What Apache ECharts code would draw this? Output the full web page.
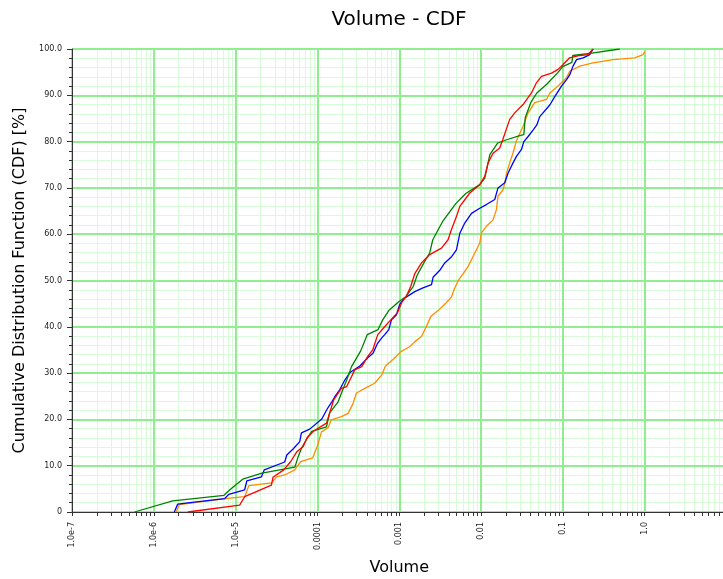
<!DOCTYPE html>
<html>
<head>
<meta charset="utf-8">
<script src="https://cdn.jsdelivr.net/npm/echarts@6/dist/echarts.min.js"></script>
<style>
  html, body { margin: 0; padding: 0; background: #fff; }
  #chart { width: 723px; height: 579px; }
</style>
</head>
<body>
<div id="chart"></div>
<script>
// Tick labels of the log axis, one per decade from 1e-7 to 1
const xTickLabels = ['1.0e-7', '1.0e-6', '1.0e-5', '0.0001', '0.001', '0.01', '0.1', '1.0']

// CDF curves (volume, cumulative %)
const redVol = [2.6e-6, 1.12e-5, 1.29e-5, 2.74e-5, 2.86e-5, 3.87e-5, 4.72e-5, 5.58e-5, 6.67e-5, 7.5e-5,
  9.0e-5, 1.29e-4, 1.58e-4, 1.96e-4, 2.28e-4, 2.86e-4, 3.48e-4, 4.12e-4, 4.74e-4, 5.46e-4,
  6.47e-4, 7.87e-4, 9.46e-4, 1.07e-3, 1.22e-3, 1.38e-3, 1.55e-3, 1.87e-3, 2.36e-3, 3.28e-3,
  3.95e-3, 4.35e-3, 5.0e-3, 5.5e-3, 7.28e-3, 9.64e-3, 1.11e-2, 1.22e-2, 1.4e-2, 1.69e-2,
  1.84e-2, 2.24e-2, 2.58e-2, 3.26e-2, 4.13e-2, 4.75e-2, 5.47e-2, 7.26e-2, 8.73e-2, 0.1,
  0.121, 0.161, 0.203, 0.234]
const redPct = [0, 1.5, 3.3, 5.8, 7.5, 9.1, 10.9, 13.0, 14.1, 16.1,
  17.5, 19.2, 24.2, 26.7, 27.1, 30.7, 31.4, 33.6, 35.0, 38.3,
  39.8, 41.5, 43.0, 45.2, 46.6, 48.7, 51.5, 53.8, 55.6, 57.0,
  58.8, 61.0, 63.8, 66.0, 68.9, 70.7, 72.5, 75.4, 77.5, 78.6,
  80.4, 84.8, 86.2, 88.0, 90.5, 92.7, 94.1, 94.8, 95.6, 96.6,
  98.1, 98.6, 98.8, 100]

const blueVol = [1.78e-6, 1.96e-6, 3.32e-6, 7.36e-6, 8.24e-6, 1.29e-5, 1.37e-5, 2.07e-5, 2.24e-5, 3.98e-5,
  4.22e-5, 5.04e-5, 6.08e-5, 6.37e-5, 8.05e-5, 1.13e-4, 1.32e-4, 1.5e-4, 1.63e-4, 1.87e-4,
  2.16e-4, 2.52e-4, 3.33e-4, 4.12e-4, 4.78e-4, 5.38e-4, 6.11e-4, 6.65e-4, 7.45e-4, 8.03e-4,
  9.25e-4, 1.01e-3, 1.14e-3, 1.34e-3, 1.55e-3, 1.95e-3, 2.48e-3, 2.59e-3, 3.13e-3, 3.6e-3,
  4.39e-3, 5.0e-3, 5.5e-3, 6.32e-3, 7.64e-3, 9.64e-3, 1.16e-2, 1.47e-2, 1.61e-2, 1.95e-2,
  2.14e-2, 2.46e-2, 2.71e-2, 3.12e-2, 3.33e-2, 3.76e-2, 4.32e-2, 4.8e-2, 5.22e-2, 6.92e-2,
  7.96e-2, 9.61e-2, 0.111, 0.121, 0.133, 0.147, 0.177, 0.213, 0.234]
const bluePct = [0, 1.7, 2.2, 2.9, 3.8, 4.8, 6.7, 7.6, 9.1, 10.8,
  12.3, 13.6, 15.2, 17.1, 17.9, 20.1, 22.3, 23.8, 24.9, 26.4,
  28.5, 30.2, 31.6, 33.3, 34.3, 36.3, 37.6, 38.3, 39.4, 41.5,
  42.6, 44.8, 46.1, 46.9, 47.6, 48.4, 49.1, 50.7, 52.2, 53.8,
  55.2, 56.6, 60.2, 62.4, 64.5, 65.6, 66.4, 67.5, 70.0, 71.1,
  73.2, 75.4, 76.8, 78.3, 80.0, 81.1, 82.5, 83.6, 85.4, 87.9,
  89.7, 92.0, 93.4, 94.4, 96.3, 97.7, 98.1, 98.8, 100]

const greenVol = [5.8e-7, 1.7e-6, 7.2e-6, 8.5e-6, 1.22e-5, 2.1e-5, 5.3e-5, 5.8e-5, 6.4e-5, 7.3e-5,
  8.5e-5, 1.29e-4, 1.41e-4, 1.79e-4, 2.04e-4, 2.28e-4, 2.61e-4, 3.38e-4, 4.06e-4, 5.51e-4,
  6.28e-4, 7.45e-4, 9.86e-4, 1.2e-3, 1.48e-3, 1.66e-3, 2.0e-3, 2.36e-3, 2.57e-3, 3.43e-3,
  4.91e-3, 6.5e-3, 9.64e-3, 1.11e-2, 1.28e-2, 1.6e-2, 2.05e-2, 2.97e-2, 3.33e-2, 3.47e-2,
  4.05e-2, 4.8e-2, 6.35e-2, 8.67e-2, 9.97e-2, 0.129, 0.132, 0.225, 0.496]
const greenPct = [0, 2.4, 3.6, 4.8, 7.1, 8.4, 9.7, 11.9, 13.8, 15.6,
  17.4, 18.4, 21.4, 23.8, 26.4, 28.5, 31.4, 34.8, 38.3, 39.4,
  41.5, 43.5, 45.4, 46.5, 48.7, 51.2, 53.8, 56.0, 58.8, 62.9,
  66.6, 68.8, 70.7, 72.1, 77.2, 79.7, 80.4, 81.3, 81.5, 85.2,
  88.4, 90.5, 92.4, 94.9, 96.2, 97.1, 98.6, 99.1, 100]

const orangeVol = [1.88e-6, 2.05e-6, 8.47e-6, 1.29e-5, 1.45e-5, 2.74e-5, 3.18e-5, 3.98e-5, 5.27e-5, 6.25e-5,
  8.77e-5, 1.01e-4, 1.12e-4, 1.35e-4, 1.48e-4, 1.96e-4, 2.37e-4, 2.72e-4, 3.0e-4, 3.79e-4,
  5.01e-4, 6.11e-4, 6.75e-4, 8.57e-4, 1.06e-3, 1.34e-3, 1.55e-3, 1.87e-3, 2.11e-3, 2.43e-3,
  2.98e-3, 3.7e-3, 4.33e-3, 4.77e-3, 5.24e-3, 6.93e-3, 7.98e-3, 9.64e-3, 1.01e-2, 1.16e-2,
  1.4e-2, 1.54e-2, 1.61e-2, 1.86e-2, 1.95e-2, 2.05e-2, 2.24e-2, 2.46e-2, 2.71e-2, 3.26e-2,
  3.76e-2, 4.53e-2, 6.31e-2, 6.92e-2, 8.73e-2, 0.111, 0.121, 0.161, 0.234, 0.411,
  0.757, 0.955, 1.0]
const orangePct = [0, 1.6, 3.0, 3.3, 5.7, 6.3, 7.6, 8.0, 9.1, 10.9,
  11.7, 14.5, 17.3, 18.2, 19.9, 20.6, 21.3, 23.4, 25.7, 26.7,
  27.8, 29.6, 31.5, 33.1, 34.7, 35.7, 36.8, 37.9, 39.8, 42.2,
  43.5, 45.1, 46.4, 48.4, 49.9, 53.0, 55.2, 58.1, 60.3, 61.7,
  63.1, 65.3, 68.2, 69.6, 71.1, 73.2, 75.4, 77.6, 80.2, 83.3,
  86.2, 88.4, 89.1, 90.5, 92.0, 93.8, 95.2, 96.3, 97.0, 97.7,
  98.1, 98.8, 99.4]

const FONT = 'DejaVu Sans'
const majorGrid = '#90ee90'
const minorGrid = '#d8fbd8'
const axisColor = '#333333'

const zip = (xs, ys) => xs.map((x, i) => [x, ys[i]])

// minor log positions 2..9 in each decade (grid lines + small ticks)
const minorX = []
for (let e = -7; e <= 0; e++) {
  for (let m = 2; m <= 9; m++) minorX.push([m * Math.pow(10, e), 0])
}

const chart = echarts.init(document.getElementById('chart'))

const lineSeries = (name, color, vol, pct) => ({
  name: name,
  type: 'line',
  data: zip(vol, pct),
  showSymbol: false,
  symbol: 'none',
  z: 3,
  lineStyle: { color: color, width: 1.3 },
  itemStyle: { color: color }
})

chart.setOption({
  animation: false,
  backgroundColor: '#ffffff',
  title: {
    text: 'Volume - CDF',
    left: 394,
    textAlign: 'center',
    top: 5,
    textStyle: { fontFamily: FONT, fontSize: 20, fontWeight: 'normal', color: '#000' }
  },
  grid: {
    left: 72,
    right: -3.5,
    top: 49,
    bottom: 67,
    outerBoundsMode: 'none',
    containLabel: false,
    show: true,
    borderColor: axisColor,
    borderWidth: 1,
    backgroundColor: 'transparent'
  },
  xAxis: {
    type: 'log',
    logBase: 10,
    min: 1e-7,
    max: 10,
    interval: 1,
    name: 'Volume',
    nameLocation: 'middle',
    nameGap: 48,
    nameTextStyle: { fontFamily: FONT, fontSize: 16, color: '#000' },
    axisLine: { show: true, onZero: false, lineStyle: { color: axisColor } },
    axisTick: { show: true, length: 4, lineStyle: { color: axisColor } },
    axisLabel: {
      rotate: 90,
      margin: 10,
      fontFamily: FONT,
      fontSize: 8,
      color: '#222',
      formatter: v => xTickLabels[Math.round(Math.log10(v)) + 7] || ''
    },
    splitLine: { show: true, lineStyle: { color: majorGrid, width: 2 } }
  },
  yAxis: {
    type: 'value',
    min: 0,
    max: 100,
    interval: 10,
    name: 'Cumulative Distribution Function (CDF) [%]',
    nameLocation: 'middle',
    nameGap: 44,
    nameTextStyle: { fontFamily: FONT, fontSize: 16, color: '#000' },
    axisLine: { show: true, lineStyle: { color: axisColor } },
    axisTick: { show: true, length: 5, lineStyle: { color: axisColor } },
    minorTick: { show: true, splitNumber: 5, length: 3, lineStyle: { color: axisColor } },
    axisLabel: {
      margin: 10,
      fontFamily: FONT,
      fontSize: 8,
      color: '#222',
      formatter: v => (v === 0 ? '0' : v.toFixed(1))
    },
    splitLine: { show: true, lineStyle: { color: majorGrid, width: 2 } },
    minorSplitLine: { show: true, lineStyle: { color: minorGrid, width: 1 } }
  },
  series: [
    {
      type: 'custom',
      silent: true,
      z: -1,
      clip: false,
      data: minorX,
      encode: { x: 0, y: 1 },
      renderItem: (params, api) => {
        const top = api.coord([api.value(0), 100])
        const bot = api.coord([api.value(0), 0])
        const x = Math.round(bot[0]) + 0.5
        return {
          type: 'group',
          children: [
            { type: 'line', shape: { x1: x, y1: top[1], x2: x, y2: bot[1] }, style: { stroke: minorGrid, lineWidth: 1 } },
            { type: 'line', shape: { x1: x, y1: bot[1], x2: x, y2: bot[1] + 4 }, style: { stroke: axisColor, lineWidth: 1 } }
          ]
        }
      }
    },
    lineSeries('orange', '#ff8c00', orangeVol, orangePct),
    lineSeries('blue', '#0000ff', blueVol, bluePct),
    lineSeries('green', '#008000', greenVol, greenPct),
    lineSeries('red', '#ff0000', redVol, redPct)
  ]
})
</script>
</body>
</html>
